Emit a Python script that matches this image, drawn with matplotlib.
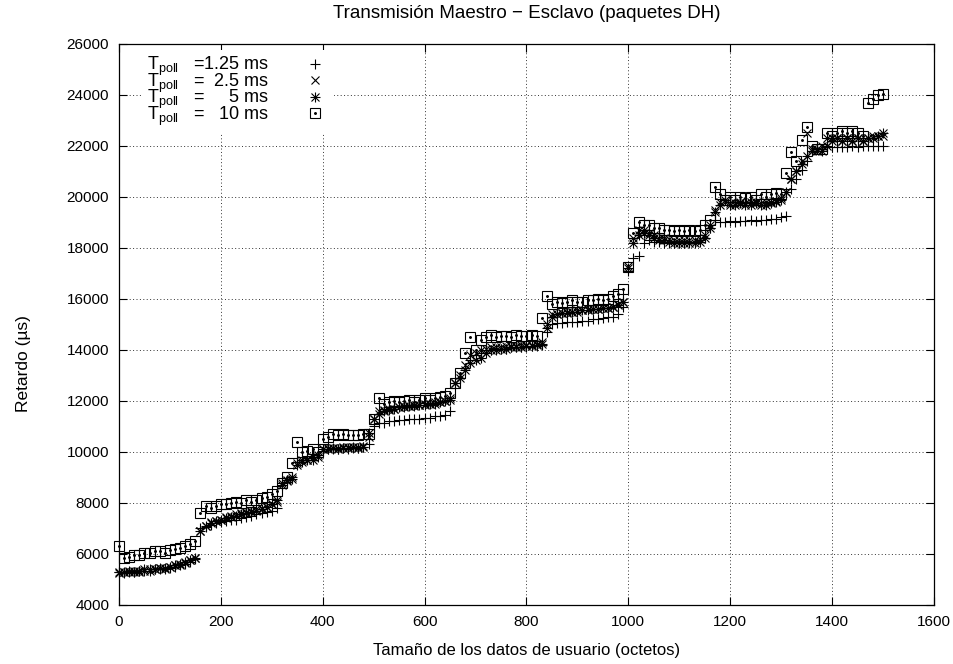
import numpy as np
import matplotlib.pyplot as plt
from matplotlib.lines import Line2D
from matplotlib.legend_handler import HandlerTuple

plt.rcParams['font.family'] = ['Liberation Sans', 'DejaVu Sans']
plt.rcParams['mathtext.fontset'] = 'custom'
plt.rcParams['mathtext.rm'] = 'Liberation Sans'
plt.rcParams['mathtext.it'] = 'Liberation Sans'
plt.rcParams['font.size'] = 11

# tamaño del paquete (octetos)
sizes = np.arange(0, 1510, 10)

# retardo medido (us) para cada T_poll
t_1_25 = [5300, 5250, 5300, 5300, 5350, 5350, 5400, 5400, 5400, 5450, 5450, 5500, 5550, 5600, 5700, 5800,
          7000, 7050, 7150, 7200, 7250, 7300, 7350, 7350, 7400, 7450, 7500, 7550, 7600, 7650, 7700, 7800,
          8700, 8900, 9000, 9600, 9700, 9750, 9800, 9900,
          10050, 10100, 10100, 10100, 10150, 10100, 10150, 10150, 10200, 10300,
          11000, 11150, 11150, 11200, 11200, 11250, 11250, 11300, 11300, 11300, 11350, 11350, 11400, 11400, 11450, 11600,
          12700, 12900, 13300, 13600,
          13800, 13900, 14000, 14000, 14050, 14050, 14050, 14100, 14100, 14100, 14100, 14150, 14150, 14200,
          14700, 15000, 15050, 15050, 15100, 15100, 15100, 15150, 15150, 15200, 15200, 15250, 15300, 15300, 15400, 15700,
          17100, 17600, 17700, 18200, 18300, 18250, 18250, 18200, 18200, 18200, 18200, 18200, 18250, 18250, 18300, 18400, 18800,
          19100, 19000, 19000, 19050, 19000, 19050, 19050, 19100, 19050, 19100, 19100, 19150, 19150, 19200, 19250,
          20300, 20700, 21050, 21400, 21800, 21900, 21900, 21950, 21950, 21950, 21950, 21950, 22000, 21950, 22000, 22000, 22000, 22000, 22000]

t_2_5 = [5250, 5300, 5300, 5350, 5300, 5350, 5400, 5400, 5450, 5450, 5500, 5550, 5550, 5650, 5750, 5850,
         6900, 7100, 7250, 7300, 7350, 7450, 7500, 7550, 7600, 7650, 7700, 7750, 7800, 7850, 7950, 8050,
         8700, 8850, 9000, 9550, 9700, 9700, 9800, 9900,
         10100, 10150, 10150, 10150, 10200, 10200, 10200, 10200, 10250, 10600,
         11300, 11600, 11650, 11700, 11700, 11750, 11800, 11800, 11850, 11850, 11900, 11900, 11950, 11950, 12000, 12100,
         12700, 13000, 13400, 13800,
         13900, 14000, 14050, 14100, 14100, 14100, 14150, 14150, 14150, 14200, 14200, 14200, 14250, 14300,
         15000, 15400, 15400, 15450, 15500, 15500, 15550, 15550, 15600, 15600, 15600, 15650, 15650, 15700, 15800, 15900,
         17300, 18400, 18700, 18700, 18600, 18500, 18400, 18400, 18350, 18300, 18300, 18300, 18300, 18300, 18350, 18500, 18900,
         19500, 19800, 19800, 19750, 19750, 19800, 19750, 19800, 19800, 19750, 19800, 19800, 19850, 19950, 20200,
         20700, 21000, 21400, 22500, 21900, 21800, 22000, 22300, 22200, 22300, 22200, 22300, 22200, 22300, 22200, 22300, 22400, 22400, 22400]

t_5 = [5300, 5300, 5350, 5300, 5350, 5400, 5350, 5400, 5450, 5400, 5500, 5550, 5600, 5700, 5750, 5850,
       6900, 7100, 7200, 7300, 7350, 7400, 7450, 7500, 7550, 7600, 7650, 7700, 7750, 7850, 7950, 8100,
       8800, 8900, 8950, 9500, 9600, 9700, 9700, 9800,
       10100, 10100, 10150, 10100, 10150, 10150, 10200, 10150, 10200, 10750,
       11300, 11500, 11600, 11650, 11700, 11750, 11750, 11800, 11800, 11850, 11850, 11900, 11900, 11950, 12000, 12050,
       12700, 12900, 13200, 13500,
       13600, 13700, 13900, 14000, 14000, 14050, 14050, 14100, 14100, 14100, 14150, 14150, 14200, 14250,
       14850, 15300, 15400, 15450, 15450, 15500, 15500, 15550, 15550, 15600, 15600, 15650, 15650, 15700, 15750, 15900,
       17200, 18200, 18500, 18600, 18500, 18400, 18300, 18300, 18250, 18200, 18200, 18200, 18200, 18200, 18250, 18400, 18800,
       19400, 19700, 19900, 19700, 19700, 19750, 19700, 19700, 19750, 19700, 19700, 19750, 19800, 19900, 20200,
       20700, 21000, 21300, 21600, 21800, 21900, 21800, 22000, 22300, 22300, 22200, 22300, 22200, 22300, 22200, 22300, 22300, 22400, 22500]

t_10 = [6300, 5850, 5900, 5950, 5950, 6050, 6050, 6100, 6100, 6050, 6150, 6200, 6250, 6300, 6400, 6500,
        7600, 7900, 7800, 7900, 7950, 7950, 8000, 8050, 8000, 8100, 8050, 8100, 8200, 8250, 8350, 8450,
        8800, 9000, 9550, 10400, 10000, 10050, 10100, 10000,
        10500, 10600, 10700, 10650, 10700, 10650, 10650, 10650, 10700, 10700,
        11300, 12100, 11900, 11950, 12000, 11950, 12000, 12050, 11950, 12050, 12100, 12050, 12100, 12150, 12200, 12300,
        12700, 13100, 13900, 14500,
        14000, 14400, 14500, 14600, 14500, 14550, 14550, 14500, 14600, 14550, 14550, 14600, 14550, 15250,
        16100, 15800, 15900, 15850, 15900, 15950, 15900, 15900, 15950, 15950, 16000, 15950, 16000, 16100, 16200, 16400,
        17250, 18600, 19000, 18900, 18900, 18800, 18800, 18700, 18700, 18650, 18700, 18650, 18700, 18650, 18700, 18900, 19100,
        20400, 20100, 19900, 20000, 19900, 20000, 19950, 20000, 19900, 20100, 20000, 20100, 20150, 20100, 20950,
        21750, 21400, 22250, 22750, 22000, 21900, 21900, 22500, 22400, 22500, 22600, 22500, 22600, 22500, 22400, 23700, 23850, 24000, 24050]

labels = [r'$\mathrm{T}_{\mathrm{poll}}$   =1.25 ms',
          r'$\mathrm{T}_{\mathrm{poll}}$   =  2.5 ms',
          r'$\mathrm{T}_{\mathrm{poll}}$   =     5 ms',
          r'$\mathrm{T}_{\mathrm{poll}}$   =   10 ms']

fig = plt.figure(figsize=(9.54, 6.64), dpi=100)
ax = fig.add_axes([0.1247, 0.0889, 0.8543, 0.8449])

mk = dict(linestyle='none', color='black', markeredgewidth=0.8, clip_on=False)
ax.plot(sizes, t_1_25, marker='+', markersize=7, **mk)
ax.plot(sizes, t_2_5, marker='x', markersize=5.5, **mk)
ax.plot(sizes, t_5, marker='+', markersize=7, **mk)
ax.plot(sizes, t_5, marker='x', markersize=5.5, **mk)
ax.plot(sizes, t_10, marker='s', markersize=6.5, markerfacecolor='none', **mk)
ax.plot(sizes, t_10, marker='o', markersize=1.3, **mk)

# leyenda estilo gnuplot (simbolo a la derecha)
h_plus = Line2D([], [], marker='+', markersize=7, **mk)
h_x = Line2D([], [], marker='x', markersize=5.5, **mk)
h_sq = Line2D([], [], marker='s', markersize=6.5, markerfacecolor='none', **mk)
h_dot = Line2D([], [], marker='o', markersize=1.3, **mk)
leg = ax.legend([h_plus, h_x, (h_plus, h_x), (h_sq, h_dot)], labels,
                loc='upper left', bbox_to_anchor=(0.028, 0.99), markerfirst=False,
                frameon=True, fancybox=False, edgecolor='none', facecolor='white', framealpha=1,
                handler_map={tuple: HandlerTuple(ndivide=1)},
                handlelength=1.5, handletextpad=1.8, labelspacing=-0.37,
                borderpad=0.3, borderaxespad=0, fontsize=13)
leg.set_zorder(5)

ax.set_xlim(0, 1600)
ax.set_ylim(4000, 26000)
ax.set_xticks(range(0, 1601, 200))
ax.set_yticks(range(4000, 26001, 2000))
ax.tick_params(direction='in', length=6, width=0.8, top=True, right=True, pad=7, labelsize=11)
for s in ax.spines.values():
    s.set_linewidth(0.9)
ax.grid(True, color='0.2', linestyle=(0, (1, 2.5)), linewidth=0.7)
ax.set_axisbelow(True)

ax.set_title('Transmisión Maestro − Esclavo (paquetes DH)', fontsize=13.5, pad=19)
ax.set_xlabel('Tamaño de los datos de usuario (octetos)', fontsize=12, labelpad=10)
ax.set_ylabel('Retardo (µs)', fontsize=12.5)
ax.yaxis.set_label_coords(-0.108, 0.43)

plt.savefig('out.png', dpi=100)
